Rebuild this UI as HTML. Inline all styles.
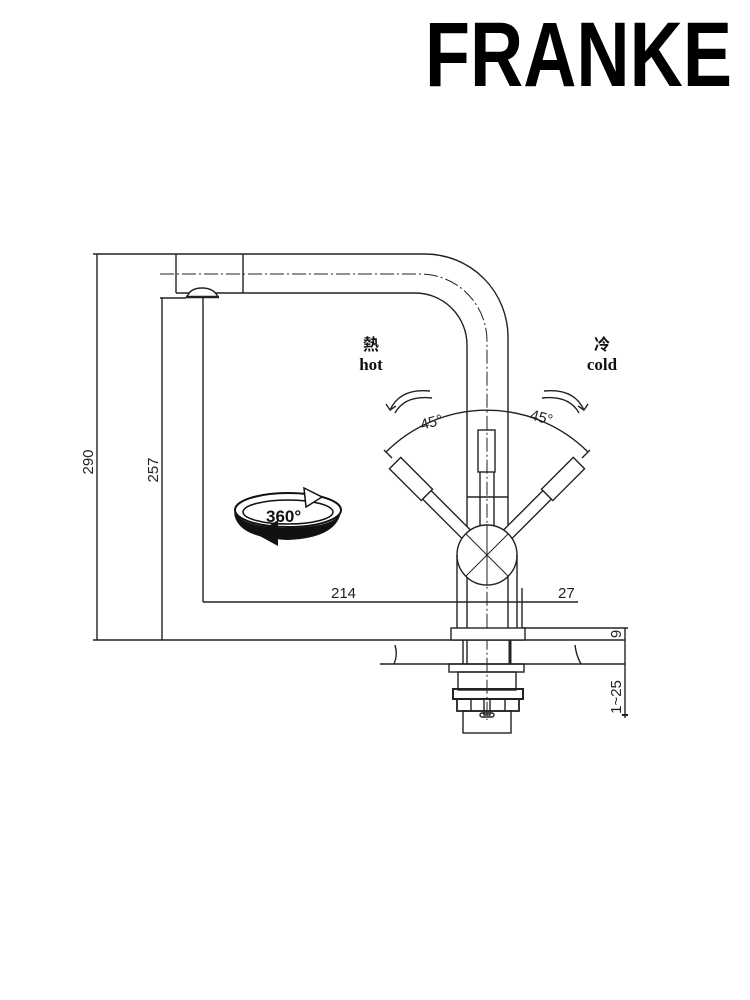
<!DOCTYPE html>
<html><head><meta charset="utf-8"><style>
html,body{margin:0;padding:0;background:#fff;}
svg{display:block;}
</style></head><body>
<svg width="750" height="1000" viewBox="0 0 750 1000" xmlns="http://www.w3.org/2000/svg">
<text x="425" y="86" font-family="Liberation Sans, sans-serif" font-weight="bold" font-size="92" textLength="307" lengthAdjust="spacingAndGlyphs" fill="#000">FRANKE</text>
<g fill="none" stroke="#222" stroke-width="1.4">
<path d="M93 254 H425 A83 83 0 0 1 508 337 V628"/>
<path d="M176 293 H415 A52 52 0 0 1 467 345 V628"/>
<line x1="176" y1="254" x2="176" y2="293"/>
<line x1="243" y1="254" x2="243" y2="293"/>
<path d="M160 274 H420 A67 67 0 0 1 487 341 V720" stroke-dasharray="14 3 2 3" stroke-width="1"/>
<path d="M187 297 Q190 288 202 288 Q214 288 218 297 Z" fill="#fff"/>
<line x1="186" y1="297" x2="219" y2="297" stroke-width="2.5"/>
<line x1="97" y1="254" x2="97" y2="640"/>
<line x1="162" y1="298" x2="162" y2="640"/>
<line x1="160" y1="298" x2="186" y2="298"/>
<line x1="203" y1="298" x2="203" y2="602"/>
<line x1="203" y1="602" x2="578" y2="602"/>
<line x1="522" y1="588" x2="522" y2="628"/>
<line x1="93" y1="640" x2="625" y2="640"/>
<line x1="380" y1="664" x2="625" y2="664"/>
<line x1="522" y1="628" x2="628" y2="628"/>
<path d="M395 645 Q398 655 394 664"/>
<path d="M575 645 Q576 655 581 664"/>
<line x1="625" y1="628" x2="625" y2="718"/>
<path d="M467 497 H508"/>
<rect x="478" y="430" width="17" height="42"/>
<line x1="480" y1="472" x2="480" y2="525"/>
<line x1="494" y1="472" x2="494" y2="525"/>
<path d="M386 452 A143 143 0 0 1 588 452"/>
<line x1="384" y1="450" x2="392" y2="458"/>
<line x1="590" y1="450" x2="582" y2="458"/>
<g transform="rotate(-45 487 555)">
<rect x="479" y="425" width="16" height="45" fill="#fff"/>
<rect x="481" y="470" width="12" height="60" fill="#fff"/>
</g>
<g transform="rotate(45 487 555)">
<rect x="479" y="425" width="16" height="45" fill="#fff"/>
<rect x="481" y="470" width="12" height="60" fill="#fff"/>
</g>
<circle cx="487" cy="555" r="30" fill="#fff"/>
<line x1="466" y1="534" x2="508" y2="576" stroke-width="1"/>
<line x1="508" y1="534" x2="466" y2="576" stroke-width="1"/>
<line x1="487" y1="525" x2="487" y2="585" stroke-width="1"/>
<line x1="457" y1="555" x2="457" y2="628"/>
<line x1="517" y1="555" x2="517" y2="628"/>
<rect x="451" y="628" width="74" height="12" fill="#fff"/>
<line x1="463" y1="640" x2="463" y2="664"/>
<line x1="467" y1="640" x2="467" y2="664"/>
<line x1="510" y1="640" x2="510" y2="664" stroke-width="3"/>
<rect x="449" y="664" width="75" height="8"/>
<rect x="458" y="672" width="58" height="18"/>
<rect x="453" y="689" width="70" height="10" stroke-width="2"/>
<rect x="457" y="699" width="62" height="12" stroke-width="1.8"/>
<rect x="463" y="711" width="48" height="22"/>
<line x1="471" y1="699" x2="471" y2="711"/>
<line x1="505" y1="699" x2="505" y2="711"/>
<rect x="484" y="699" width="6" height="16"/>
<rect x="480" y="713" width="14" height="4" rx="2"/>
<path d="M430 391 Q400 388 390 410 L386 404 M390 410 L396 406" />
<path d="M432 398 Q405 395 395 413" />
<path d="M544 391 Q574 388 584 410 L588 404 M584 410 L578 406"/>
<path d="M542 398 Q569 395 579 413"/>
<line x1="622" y1="715" x2="628" y2="715" stroke-width="2"/>
</g>
<g>
<path d="M234 512 Q236 538 288 540 Q336 538 341 512 Q336 527 288 528 Q242 527 234 512 Z" fill="#111"/>
<ellipse cx="288" cy="510" rx="53" ry="17" fill="none" stroke="#111" stroke-width="2"/>
<ellipse cx="288" cy="512" rx="45" ry="12" fill="none" stroke="#111" stroke-width="1.5"/>
<path d="M256 534 L278 520 L278 546 Z" fill="#111"/>
<path d="M304 488 L322 497 L306 507 Z" fill="#fff" stroke="#111" stroke-width="1.5"/>
<text x="266" y="522" font-family="Liberation Sans, sans-serif" font-weight="bold" font-size="17" fill="#111">360°</text>
</g>
<g font-family="Liberation Serif, 'Noto Serif CJK SC', serif" font-weight="bold" fill="#111">
<text x="371" y="350" font-size="16" text-anchor="middle" font-family="'Noto Sans CJK SC', sans-serif">熱</text>
<text x="371" y="370" font-size="17" text-anchor="middle">hot</text>
<text x="602" y="350" font-size="16" text-anchor="middle" font-family="'Noto Sans CJK SC', sans-serif">冷</text>
<text x="602" y="370" font-size="17" text-anchor="middle">cold</text>
</g>
<g font-family="Liberation Sans, sans-serif" font-size="15" fill="#222">
<text x="420" y="428" transform="rotate(-15 428 422)">45°</text>
<text x="530" y="422" transform="rotate(15 540 418)">45°</text>
<text x="331" y="598">214</text>
<text x="558" y="598">27</text>
<text transform="translate(93 462) rotate(-90)" text-anchor="middle">290</text>
<text transform="translate(158 470) rotate(-90)" text-anchor="middle">257</text>
<text transform="translate(621 634) rotate(-90)" text-anchor="middle">9</text>
<text transform="translate(621 697) rotate(-90)" text-anchor="middle">1~25</text>
</g>
</svg>
</body></html>
